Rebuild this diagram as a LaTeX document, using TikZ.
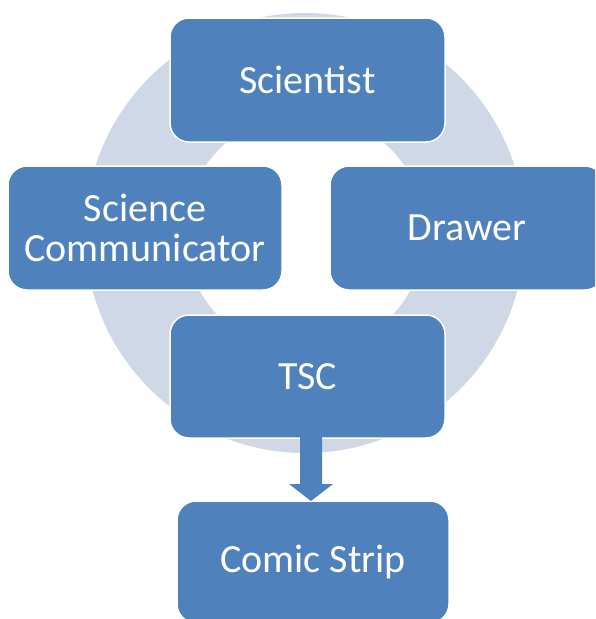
\documentclass[tikz,border=0pt]{standalone}
\usepackage{fontspec}
\setmainfont{Carlito}
\usetikzlibrary{calc}
\definecolor{boxblue}{RGB}{79,129,189}
\definecolor{ringc}{RGB}{208,216,232}
\tikzset{
  blk/.style={draw=white, line width=1.5pt, fill=boxblue, rounded corners=19pt,
    text=white, align=center, inner sep=0pt,
    font=\fontsize{40}{40}\selectfont},
}
\begin{document}
\begin{tikzpicture}[x=1pt,y=-1pt]
\useasboundingbox (0,0) rectangle (595,619);
\clip (0,0) rectangle (595,619);
\fill[white] (0,0) rectangle (595,619);
% background ring
\fill[ringc, even odd rule] (305,233) circle[radius=220pt] (305,233) circle[radius=120pt];
% blocks
\node[blk, minimum width=275pt, minimum height=124pt] (sci) at (307.5,80) {Scientist};
\node[blk, minimum width=274pt, minimum height=124pt] (com) at (145,228) {Science\\Communicator};
\node[blk, minimum width=274pt, minimum height=124pt] (drw) at (467,228) {Drawer};
\node[blk, minimum width=275pt, minimum height=123pt] (tsc) at (307.5,376.5) {TSC};
\node[blk, minimum width=272pt, minimum height=122pt] (cs) at (313,562) {Comic Strip};
% arrow
\coordinate (a1) at (311,438);
\coordinate (a2) at (311,501);
\fill[boxblue] ($(a1)+(-11,-1)$) -- ($(a1)+(11,-1)$) -- ($(a2)+(11,-17)$) -- ($(a2)+(22,-17)$)
  -- (a2) -- ($(a2)+(-22,-17)$) -- ($(a2)+(-11,-17)$) -- cycle;
\end{tikzpicture}
\end{document}
